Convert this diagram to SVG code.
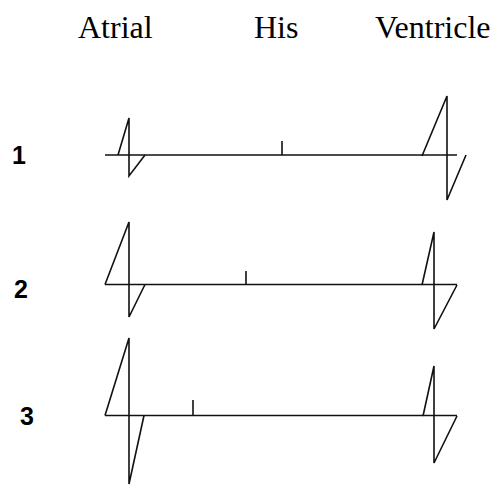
<svg xmlns="http://www.w3.org/2000/svg" width="498" height="486" viewBox="0 0 498 486">
<style>
.hdr{font-family:"Liberation Serif",serif;font-size:32px;fill:#000}
.num{font-family:"Liberation Sans",Arial,sans-serif;font-size:25px;font-weight:bold;fill:#000}
.tr{fill:none;stroke:#111;stroke-width:1.6;stroke-linejoin:miter}
</style>
<rect width="498" height="486" fill="#fff"/>
<g id="headers">
<text class="hdr" x="78" y="38">Atrial</text>
<text class="hdr" x="254" y="38">His</text>
<text class="hdr" x="375" y="38">Ventricle</text>
</g>
<g id="row1">
<text class="num" x="12" y="164">1</text>
<path class="tr" d="M105,155 H457"/>
<path class="tr" d="M118,155 L129,118 V176 L145,155"/>
<path class="tr" d="M282,141 V155"/>
<path class="tr" d="M422,156 L447,96 V200 L466,155"/>
</g>
<g id="row2">
<text class="num" x="14" y="298">2</text>
<path class="tr" d="M105,284.5 H457"/>
<path class="tr" d="M105,284.5 L129,222 V317 L145,284.5"/>
<path class="tr" d="M246,271 V284.5"/>
<path class="tr" d="M422,285 L434,232 V329 L457,285"/>
</g>
<g id="row3">
<text class="num" x="20" y="425">3</text>
<path class="tr" d="M105,415.5 H457"/>
<path class="tr" d="M105,415.5 L129,338 V484 L144,415.5"/>
<path class="tr" d="M193,400 V415.5"/>
<path class="tr" d="M423,416 L434,366 V463 L457,416"/>
</g>
</svg>
